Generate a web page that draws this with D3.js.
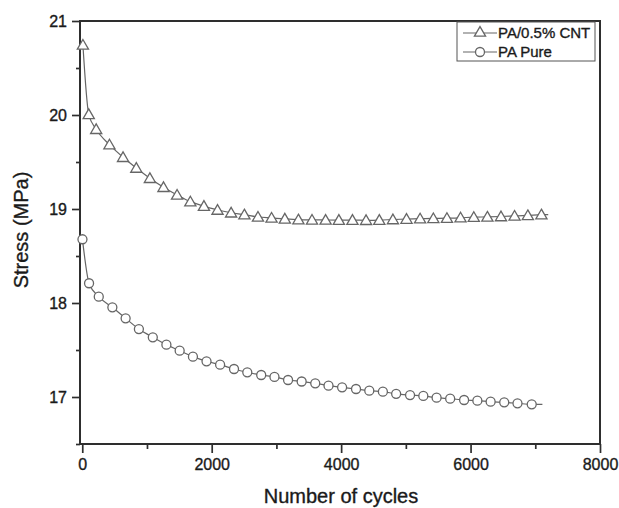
<!DOCTYPE html>
<html>
<head>
<meta charset="utf-8">
<script src="https://cdn.jsdelivr.net/npm/d3@7"></script>
<style>
  html, body { margin: 0; padding: 0; background: #fff; }
  svg { display: block; font-family: Arial, "Liberation Sans", sans-serif; }
  svg text { stroke: #1a1a1a; stroke-width: 0.35px; }
</style>
</head>
<body>
<svg id="chart" width="619" height="508"></svg>
<script>
// ---- data ----
const cntCycles = [10, 100, 215, 420, 630, 835, 1045, 1255, 1465, 1670, 1880, 2090, 2300, 2505, 2715, 2925, 3130, 3340, 3550, 3760, 3965, 4175, 4385, 4590, 4800, 5010, 5220, 5425, 5635, 5845, 6050, 6260, 6470, 6680, 6885, 7095];
const cntStress = [20.745, 20.007, 19.848, 19.684, 19.550, 19.436, 19.327, 19.231, 19.149, 19.078, 19.031, 18.989, 18.960, 18.940, 18.915, 18.905, 18.895, 18.887, 18.884, 18.883, 18.882, 18.882, 18.880, 18.882, 18.888, 18.893, 18.897, 18.900, 18.902, 18.907, 18.913, 18.916, 18.920, 18.926, 18.932, 18.940];
const cntEnd = [7200, 18.941];

const pureCycles = [3, 105, 255, 465, 670, 875, 1090, 1300, 1505, 1710, 1920, 2130, 2345, 2550, 2765, 2970, 3180, 3390, 3600, 3805, 4015, 4230, 4435, 4645, 4850, 5065, 5270, 5475, 5685, 5900, 6105, 6310, 6520, 6725, 6945];
const pureStress = [18.678, 18.210, 18.067, 17.954, 17.837, 17.723, 17.635, 17.557, 17.493, 17.429, 17.380, 17.344, 17.298, 17.263, 17.234, 17.214, 17.181, 17.165, 17.146, 17.121, 17.103, 17.085, 17.067, 17.057, 17.034, 17.021, 17.011, 16.993, 16.982, 16.968, 16.961, 16.950, 16.943, 16.933, 16.922];
const pureEnd = [7110, 16.922];

const seriesNames = ["PA/0.5% CNT", "PA Pure"];
const xTicks = [0, 2000, 4000, 6000, 8000];
const xMinorTicks = [1000, 3000, 5000, 7000];
const yTicks = [17, 18, 19, 20, 21];
const yMinorTicks = [16.5, 17.5, 18.5, 19.5, 20.5];
const xTitle = "Number of cycles";
const yTitle = "Stress (MPa)";

// ---- layout ----
const svg = d3.select("#chart");
const L = 80, R = 600, T = 21, B = 444;
const x = d3.scaleLinear().domain([-35, 8000]).range([L, R]);
const y = d3.scaleLinear().domain([16.5, 21]).range([B, T]);

const axisColor = "#2e2e2e";
const markColor = "#666";
const textColor = "#1a1a1a";

// axes
const xAxis = svg.append("g").attr("transform", `translate(0,${B})`)
  .call(d3.axisBottom(x).tickValues(xTicks).tickSize(9).tickPadding(6).tickFormat(d3.format("d")));
const xMinor = svg.append("g").attr("transform", `translate(0,${B})`)
  .call(d3.axisBottom(x).tickValues(xMinorTicks).tickSize(5).tickFormat(""));
const yAxis = svg.append("g").attr("transform", `translate(${L},0)`)
  .call(d3.axisLeft(y).tickValues(yTicks).tickSize(8).tickPadding(5).tickFormat(d3.format("d")));
const yMinor = svg.append("g").attr("transform", `translate(${L},0)`)
  .call(d3.axisLeft(y).tickValues(yMinorTicks).tickSize(4).tickFormat(""));

[xAxis, xMinor, yAxis, yMinor].forEach(g => {
  g.select(".domain").remove();
  g.selectAll("line").attr("stroke", axisColor).attr("stroke-width", 1.7);
  g.selectAll("text").attr("fill", textColor).style("font-size", "16px")
    .style("font-family", "Arial, 'Liberation Sans', sans-serif");
});

// frame
svg.append("rect").attr("x", L).attr("y", T).attr("width", R - L).attr("height", B - T)
  .attr("fill", "none").attr("stroke", axisColor).attr("stroke-width", 2);

// series
const line = d3.line().x(d => x(d[0])).y(d => y(d[1])).curve(d3.curveMonotoneX);
const cntPts = cntCycles.map((c, i) => [c, cntStress[i]]);
const purePts = pureCycles.map((c, i) => [c, pureStress[i]]);

svg.append("path").datum(cntPts.concat([cntEnd])).attr("d", line)
  .attr("fill", "none").attr("stroke", markColor).attr("stroke-width", 1.2);
svg.append("path").datum(purePts.concat([pureEnd])).attr("d", line)
  .attr("fill", "none").attr("stroke", markColor).attr("stroke-width", 1.2);

const tri = d3.symbol().type(d3.symbolTriangle).size(54);
svg.append("g").selectAll("path").data(cntPts).join("path")
  .attr("d", tri)
  .attr("transform", d => `translate(${x(d[0])},${y(d[1]) + 1})`)
  .attr("fill", "#fff").attr("stroke", markColor).attr("stroke-width", 1.3);

svg.append("g").selectAll("circle").data(purePts).join("circle")
  .attr("cx", d => x(d[0])).attr("cy", d => y(d[1])).attr("r", 4.5)
  .attr("fill", "#fff").attr("stroke", markColor).attr("stroke-width", 1.3);

// legend
const lg = svg.append("g");
lg.append("rect").attr("x", 457).attr("y", 22).attr("width", 138).attr("height", 39)
  .attr("fill", "#fff").attr("stroke", "#555").attr("stroke-width", 1);
const rows = [33, 52];
rows.forEach((ry, i) => {
  lg.append("line").attr("x1", 463).attr("x2", 497).attr("y1", ry).attr("y2", ry)
    .attr("stroke", markColor).attr("stroke-width", 1.2);
  if (i === 0) {
    lg.append("path").attr("d", tri).attr("transform", `translate(480,${ry})`)
      .attr("fill", "#fff").attr("stroke", markColor).attr("stroke-width", 1.3);
  } else {
    lg.append("circle").attr("cx", 480).attr("cy", ry).attr("r", 4.5)
      .attr("fill", "#fff").attr("stroke", markColor).attr("stroke-width", 1.3);
  }
  lg.append("text").attr("x", 498).attr("y", ry + 5).text(seriesNames[i])
    .attr("fill", textColor).style("font-size", "15px");
});

// titles
svg.append("text").attr("x", 341).attr("y", 503).attr("text-anchor", "middle")
  .attr("fill", textColor).style("font-size", "20px").text(xTitle);
svg.append("text").attr("transform", "translate(28,230) rotate(-90)").attr("text-anchor", "middle")
  .attr("fill", textColor).style("font-size", "20px").text(yTitle);
</script>
</body>
</html>
